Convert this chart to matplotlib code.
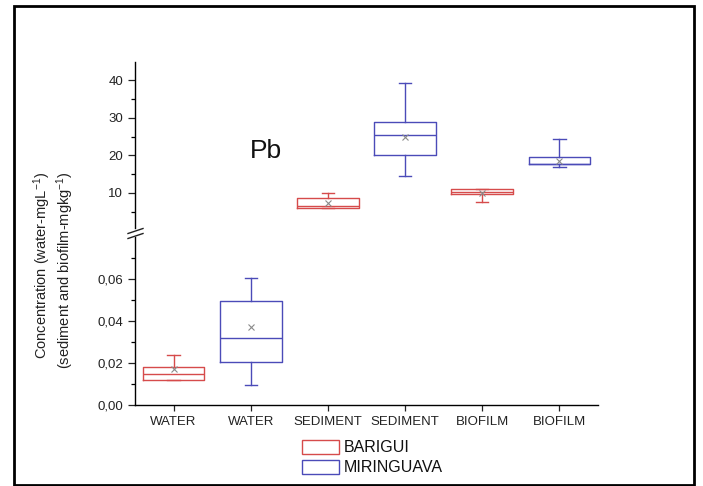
import matplotlib
matplotlib.use("Agg")
import matplotlib.pyplot as plt
from matplotlib.lines import Line2D
from matplotlib.patches import Rectangle

plt.rcParams['font.family'] = ['Liberation Sans', 'DejaVu Sans']
plt.rcParams['mathtext.fontset'] = 'custom'
plt.rcParams['mathtext.rm'] = 'Liberation Sans'
plt.rcParams['mathtext.it'] = 'Liberation Sans:italic'
plt.rcParams['mathtext.bf'] = 'Liberation Sans:bold'

# Categories along the x axis
categories = ["WATER", "WATER", "SEDIMENT", "SEDIMENT", "BIOFILM", "BIOFILM"]
sites = ["BARIGUI", "MIRINGUAVA", "BARIGUI", "MIRINGUAVA", "BARIGUI", "MIRINGUAVA"]

# Box statistics for Pb (water in mg/L, sediment and biofilm in mg/kg)
whis_low = [0.0120, 0.0097, 6.0, 14.4, 7.6, 16.8]
q1_vals = [0.0120, 0.0205, 6.1, 20.0, 9.8, 17.6]
medians = [0.0149, 0.0317, 6.5, 25.3, 10.3, 17.8]
q3_vals = [0.0180, 0.0495, 8.6, 28.8, 11.0, 19.5]
whis_high = [0.0238, 0.0606, 10.1, 39.1, 11.1, 24.3]
means = [0.0172, 0.0373, 7.4, 24.9, 10.0, 18.6]

# Axis tick values / labels
low_ticks = [0.00, 0.02, 0.04, 0.06]
low_tick_labels = ["0,00", "0,02", "0,04", "0,06"]
low_minor = [0.01, 0.03, 0.05, 0.07]
high_ticks = [10, 20, 30, 40]
high_tick_labels = ["10", "20", "30", "40"]
high_minor = [5, 15, 25, 35]

site_colors = {"BARIGUI": "#d64b4b", "MIRINGUAVA": "#4b4bb8"}

W, H = 703, 486
fig = plt.figure(figsize=(W / 100, H / 100), dpi=100)

left, right = 135 / W, 598 / W
ax_low = fig.add_axes([left, 1 - 405 / H, right - left, (405 - 237) / H])
ax_high = fig.add_axes([left, 1 - 228 / H, right - left, (228 - 62) / H])

positions = list(range(1, len(categories) + 1))
water_idx = [i for i, c in enumerate(categories) if c == "WATER"]
solid_idx = [i for i, c in enumerate(categories) if c != "WATER"]


def draw_boxes(ax, idx):
    for i in idx:
        col = site_colors[sites[i]]
        st = dict(whislo=whis_low[i], q1=q1_vals[i], med=medians[i],
                  q3=q3_vals[i], whishi=whis_high[i], mean=means[i],
                  fliers=[])
        lp = dict(color=col, linewidth=1.0)
        ax.bxp([st], positions=[positions[i]], widths=0.8, capwidths=0.16,
               showmeans=True, patch_artist=False,
               boxprops=lp, whiskerprops=lp, capprops=lp, medianprops=lp,
               meanprops=dict(marker="x", markeredgecolor="#8a8a8a",
                              markersize=4.5, markeredgewidth=0.8),
               manage_ticks=False)


draw_boxes(ax_low, water_idx)
draw_boxes(ax_high, solid_idx)

for ax in (ax_low, ax_high):
    ax.set_xlim(0.5, 6.5)
    ax.spines["top"].set_visible(False)
    ax.spines["right"].set_visible(False)
    ax.spines["left"].set_linewidth(1.0)
    ax.spines["bottom"].set_linewidth(1.0)
    ax.tick_params(axis="both", direction="out", length=5, width=0.9,
                   labelsize=9.5, colors="#222222")
    ax.tick_params(axis="y", which="minor", direction="out", length=3,
                   width=0.9)
    ax.patch.set_alpha(0)

ax_low.set_ylim(0, 0.08)
ax_low.set_yticks(low_ticks)
ax_low.set_yticklabels(low_tick_labels)
ax_low.set_yticks(low_minor, minor=True)
ax_low.set_xticks(positions)
ax_low.set_xticklabels(categories)
ax_low.tick_params(axis="x", length=4, pad=4)

ax_high.set_ylim(0.7, 44.8)
ax_high.set_yticks(high_ticks)
ax_high.set_yticklabels(high_tick_labels)
ax_high.set_yticks(high_minor, minor=True)
ax_high.spines["bottom"].set_visible(False)
ax_high.set_xticks([])

# Axis break marks on the left spine
for yb in (231, 236):
    fig.add_artist(Line2D([128 / W, 143 / W],
                          [1 - (yb + 2.5) / H, 1 - (yb - 2.5) / H],
                          color="#222222", linewidth=1.0))

# Element label
fig.text(266 / W, 1 - 151 / H, "Pb", fontsize=19, ha="center", va="center",
         color="#111111")

# Y axis label (two lines)
fig.text(42 / W, 1 - 265 / H, "Concentration (water-mgL$^{-1}$)",
         rotation=90, ha="center", va="center", fontsize=10.5,
         color="#222222")
fig.text(65 / W, 1 - 270 / H, "(sediment and biofilm-mgkg$^{-1}$)",
         rotation=90, ha="center", va="center", fontsize=10.5,
         color="#222222")

# Legend
legend_rows = [("BARIGUI", 447), ("MIRINGUAVA", 467)]
for name, yc in legend_rows:
    fig.add_artist(Rectangle((302 / W, 1 - (yc + 7) / H), 37 / W, 14 / H,
                             fill=False, edgecolor=site_colors[name],
                             linewidth=1.0))
    fig.text(344 / W, 1 - yc / H, name, fontsize=11.5, ha="left",
             va="center", color="#111111")

# Outer frame
fig.add_artist(Rectangle((13.5 / W, 1 - 484.5 / H), (694 - 13.5) / W,
                         (484.5 - 6.5) / H, fill=False, edgecolor="black",
                         linewidth=2.0))

fig.savefig("out.png", dpi=100)
